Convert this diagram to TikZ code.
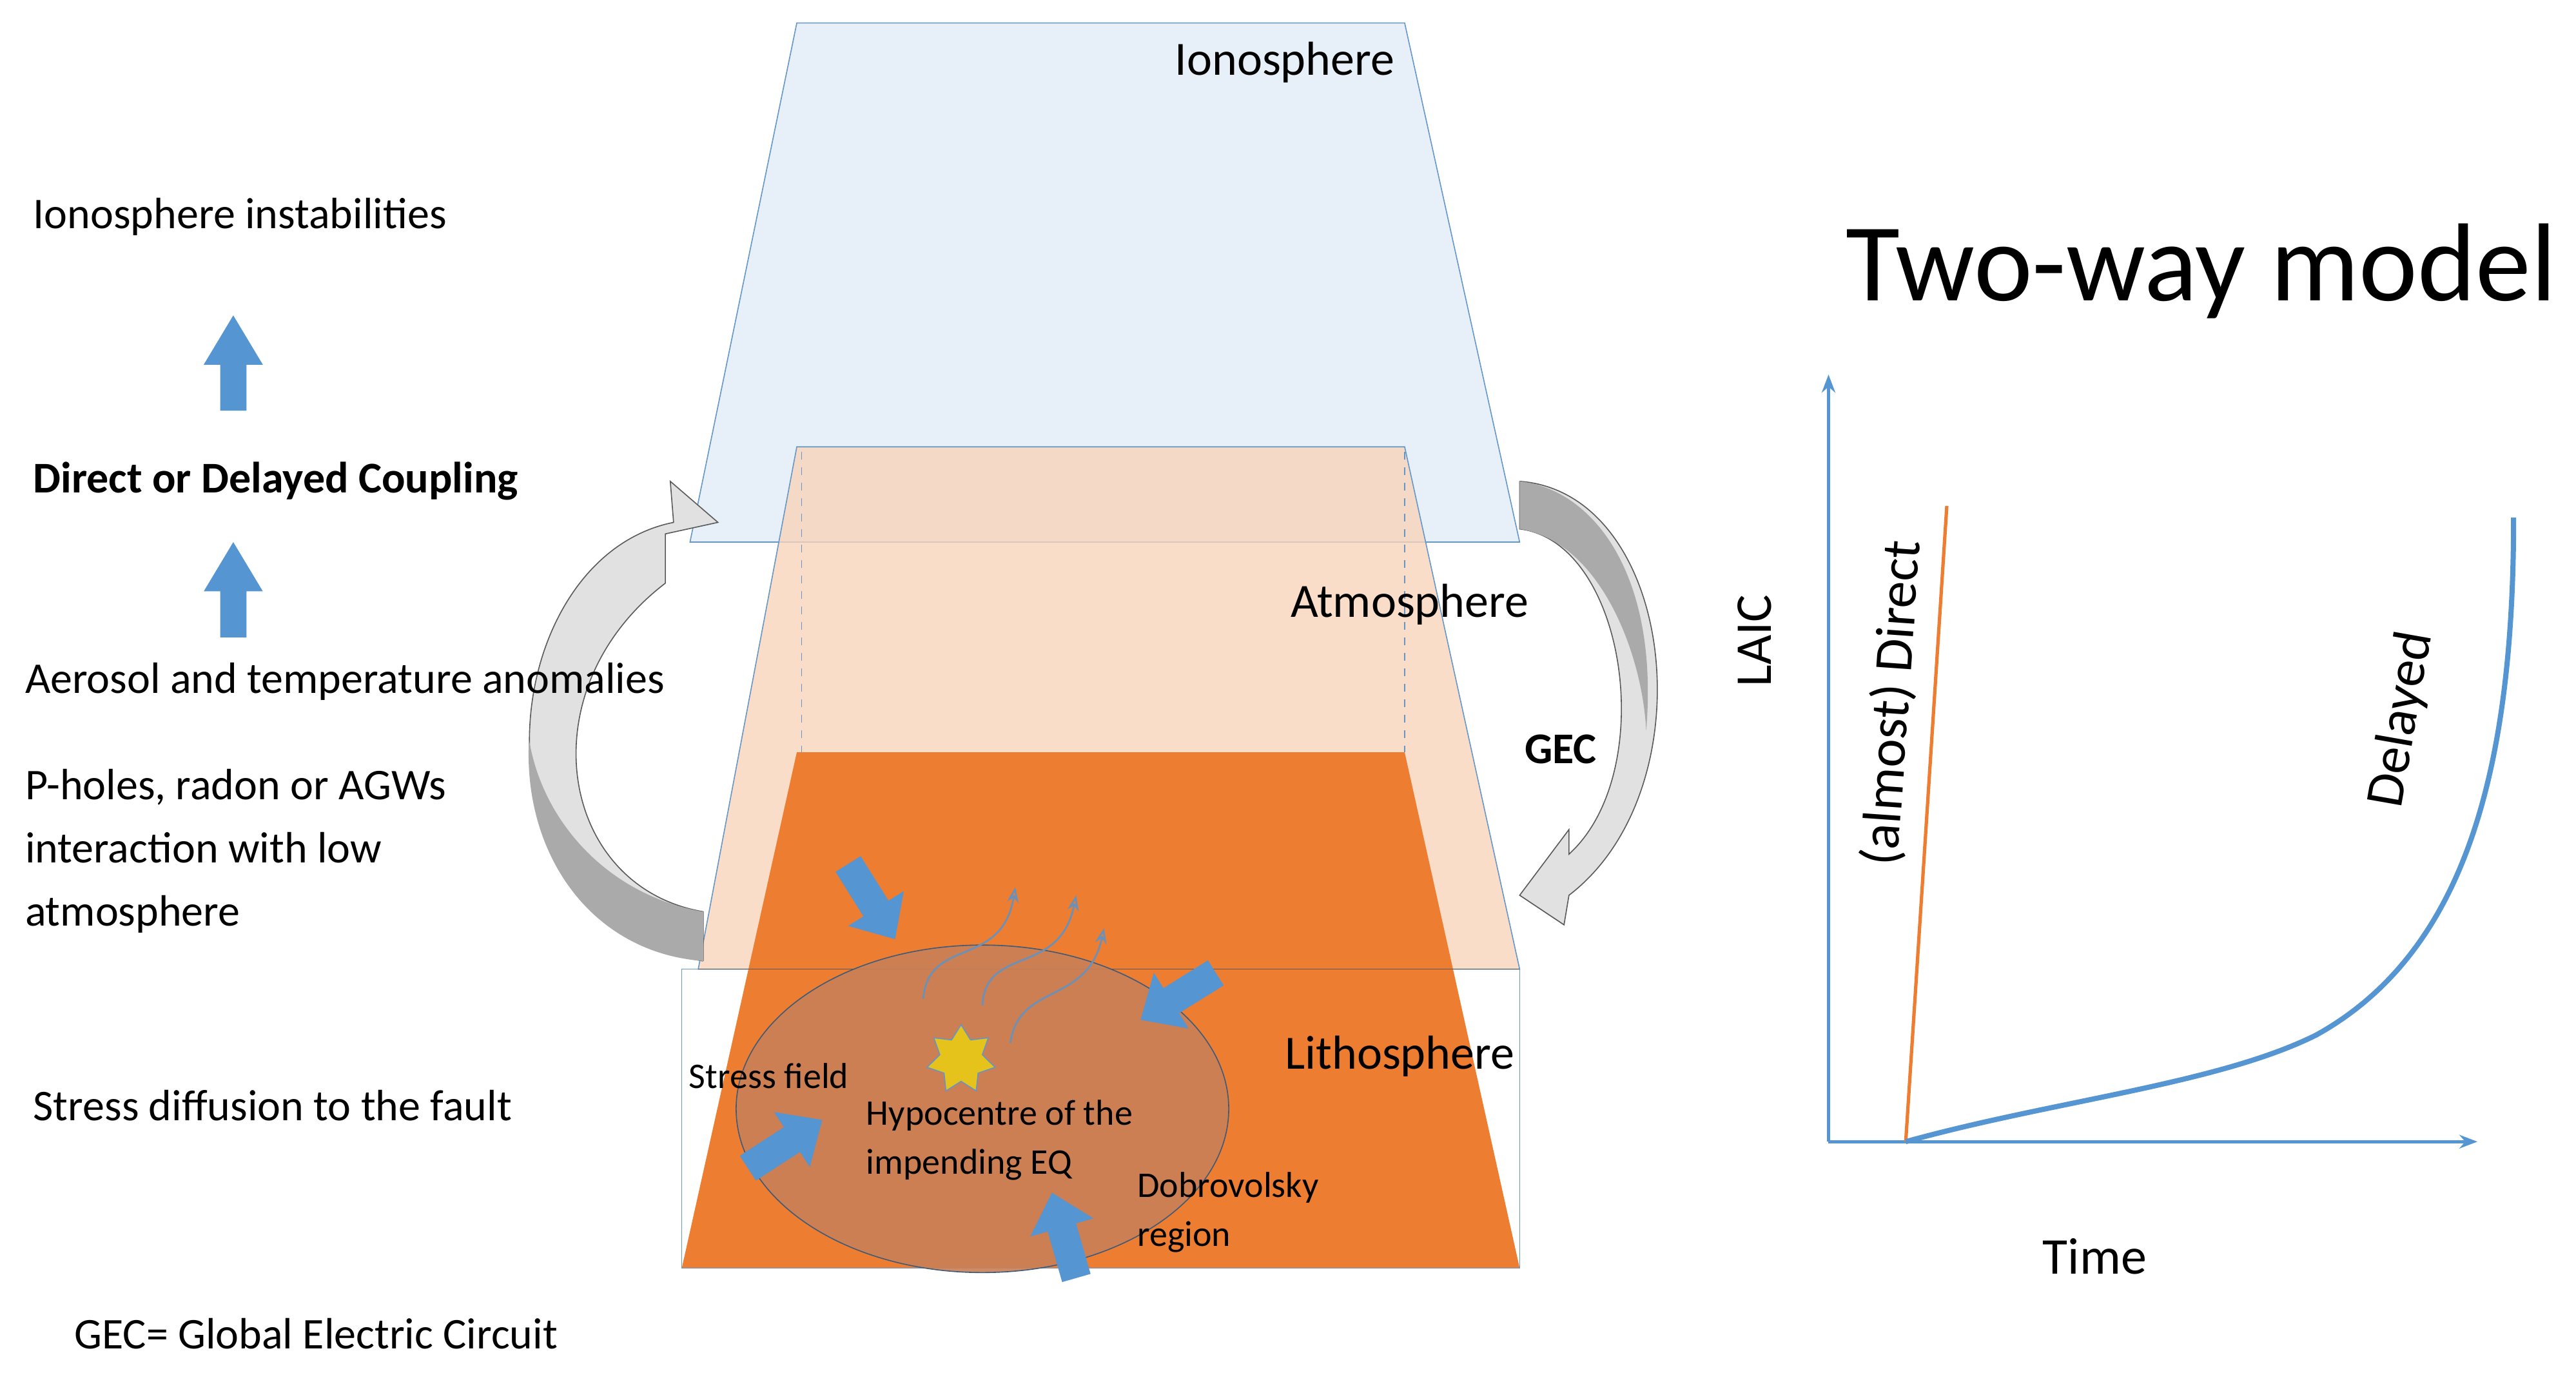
\documentclass[tikz,border=0pt]{standalone}
\usepackage{fontspec}
\setmainfont{Carlito}
\usetikzlibrary{arrows.meta,shapes.geometric,decorations.pathmorphing}
\definecolor{ionofill}{RGB}{231,240,248}
\definecolor{edge}{RGB}{100,150,200}
\definecolor{atmo}{RGB}{248,212,186}
\definecolor{litho}{RGB}{237,125,49}
\definecolor{ellip}{RGB}{200,128,86}
\definecolor{barrow}{RGB}{85,150,210}
\definecolor{garrow}{RGB}{225,225,225}
\definecolor{garrowd}{RGB}{170,170,170}
\begin{document}
\begin{tikzpicture}[x=0.637pt,y=-0.637pt,
  lbl/.style={font=\fontsize{17}{20}\selectfont,anchor=west,inner sep=0},
  sm/.style={font=\fontsize{14}{19}\selectfont,inner sep=0},
  big/.style={font=\fontsize{18.5}{22}\selectfont,inner sep=0},
  wav/.style={draw=edge!80!gray,line width=0.7pt,-{Stealth[length=6pt,open]}}]
\useasboundingbox (0,0) rectangle (1568,840);
% ionosphere
\draw[edge,fill=ionofill] (485,14) -- (855,14) -- (925,330) -- (420,330) -- cycle;
% atmosphere
\draw[edge,fill=atmo,fill opacity=0.8] (485,272) -- (855,272) -- (925,590) -- (425,590) -- cycle;
\draw[edge,dashed] (488,275) -- (488,458) (855,275) -- (855,458);
% lithosphere
\fill[litho] (485,458) -- (855,458) -- (925,772) -- (415,772) -- cycle;
\draw[edge] (415,590) rectangle (925,772);
\draw[gray!70!black] (425,590) -- (925,590);
% ellipse
\node[ellipse,draw=edge!60!black,fill=ellip,fill opacity=0.9,minimum width=191pt,minimum height=127pt] (ell) at (598,675) {};
% star
\node[star,star points=7,star point ratio=1.6,fill=yellow!70!orange!90!black,draw=edge,minimum size=27pt,inner sep=0] (st) at (585,645) {};
% wavy arrows
\draw[wav] (562,608) .. controls (565,570) and (610,590) .. (618,540);
\draw[wav] (598,612) .. controls (600,575) and (645,595) .. (655,545);
\draw[wav] (615,635) .. controls (620,598) and (662,612) .. (672,565);
% block arrows
\tikzset{barr/.pic={\fill[barrow] (-26,-9) -- (6,-9) -- (6,-20) -- (28,0) -- (6,20) -- (6,9) -- (-26,9) -- cycle;}}
\pic[rotate=-58] at (530,548) {barr};
\pic[rotate=-148] at (718,606) {barr};
\pic[rotate=33] at (477,697) {barr};
\pic[rotate=106] at (648,753) {barr};
% left curved arrow
\draw[gray!70!black,fill=garrow] (428,585) -- (428,555)
  .. controls (340,540) and (320,420) .. (405,355) -- (405,325) -- (437,318) -- (408,293) -- (410,318)
  .. controls (300,340) and (280,560) .. (428,585);
\fill[garrowd] (428,585) -- (428,555) .. controls (370,545) and (330,500) .. (322,450) .. controls (318,520) and (360,580) .. (428,585);
% right curved arrow
\draw[gray!70!black,fill=garrow] (925,293) -- (925,322)
  .. controls (990,330) and (1010,470) .. (955,520) -- (955,505) -- (925,545) -- (952,563) -- (955,545)
  .. controls (1040,480) and (1020,300) .. (925,293);
\fill[garrowd] (925,293) -- (925,322) .. controls (975,330) and (1000,400) .. (1002,445) .. controls (1010,350) and (970,298) .. (925,293);
% labels in diagram
\node[big] (ion) at (782,38) {Ionosphere};
\node[big] (atm) at (858,368) {Atmosphere};
\node[big] (lit) at (852,643) {Lithosphere};
\node[sm,font=\bfseries\fontsize{17}{20}\selectfont] (gec) at (950,456) {GEC};
\node[sm] (sf) at (468,655) {Stress field};
\node[sm,align=left,anchor=west] (hyp) at (527,694) {Hypocentre of the\\impending EQ};
\node[sm,align=left,anchor=west] (dob) at (692,738) {Dobrovolsky\\region};
% left texts
\node[lbl] (t1) at (20,132) {Ionosphere instabilities};
\node[lbl,font=\bfseries\fontsize{17}{20}\selectfont] (t2) at (20,293) {Direct or Delayed Coupling};
\node[lbl] (t3) at (15,415) {Aerosol and temperature anomalies};
\node[lbl,align=left,font=\fontsize{17}{24.5}\selectfont] (t4) at (15,518) {P-holes, radon or AGWs\\interaction with low\\atmosphere};
\node[lbl] (t5) at (20,673) {Stress diffusion to the fault};
\node[lbl] (t6) at (45,812) {GEC= Global Electric Circuit};
\fill[barrow] (134,250) -- (134,222) -- (124,222) -- (142,192) -- (160,222) -- (150,222) -- (150,250) -- cycle;
\fill[barrow] (134,388) -- (134,360) -- (124,360) -- (142,330) -- (160,360) -- (150,360) -- (150,388) -- cycle;
% right chart
\node[inner sep=0,font=\fontsize{43}{50}\selectfont] (title) at (1340,165) {Two-way model};
\coordinate (o) at (1113,695);
\coordinate (yt) at (1113,228);
\coordinate (xt) at (1508,695);
\draw[barrow,line width=1.2pt,-{Stealth[length=7pt]}] (o) -- (yt);
\draw[barrow,line width=1.2pt,-{Stealth[length=7pt]}] (o) -- (xt);
\node[inner sep=0,rotate=90,font=\fontsize{20}{24}\selectfont] (laic) at (1068,390) {LAIC};
\node[inner sep=0,font=\fontsize{20}{24}\selectfont] (time) at (1275,765) {Time};
\coordinate (s) at (1160,695);
\coordinate (d) at (1185,308);
\draw[litho,line width=1.3pt] (s) -- (d);
\draw[barrow,line width=2pt] (s) .. controls (1250,670) and (1350,660) .. (1410,630) .. controls (1500,580) and (1530,470) .. (1530,315);
\node[inner sep=0,rotate=86,font=\fontsize{21}{25}\selectfont] (dl) at (1152,428) {(almost) Direct};
\node[inner sep=0,rotate=80,font=\fontsize{21}{25}\selectfont] (del) at (1462,438) {Delayed};
\end{tikzpicture}
\end{document}
